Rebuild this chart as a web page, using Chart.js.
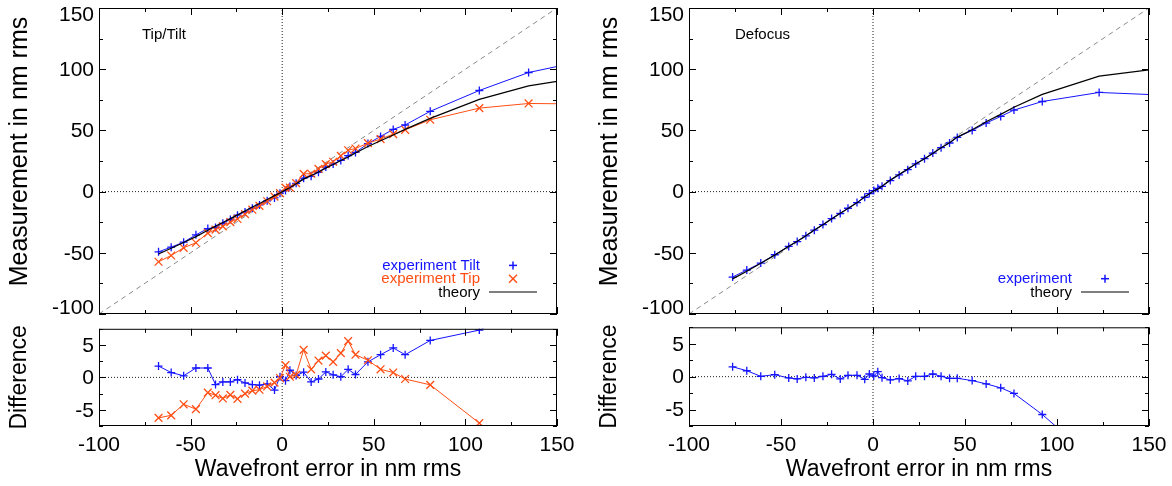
<!DOCTYPE html>
<html>
<head>
<meta charset="utf-8">
<script src="https://cdn.jsdelivr.net/npm/chart.js@4.4.1/dist/chart.umd.min.js"></script>
<style>
  html, body { margin: 0; padding: 0; background: #fff; }
  #wrap { position: relative; width: 1172px; height: 486px; overflow: hidden; }
  canvas { position: absolute; }
</style>
</head>
<body>
<div id="wrap">
  <canvas id="tl" width="586" height="322" style="left:0;top:0"></canvas>
  <canvas id="bl" width="586" height="164" style="left:0;top:322px"></canvas>
  <canvas id="tr" width="586" height="322" style="left:586px;top:0"></canvas>
  <canvas id="br" width="586" height="164" style="left:586px;top:322px"></canvas>
</div>
<script>
const FONT = "'Liberation Sans', Arial, Helvetica, sans-serif";
const BLUE = '#1414ff';
const ORANGE = '#ff4f14';

// Tip/Tilt panel (x = wavefront error, nm rms)
const ttX       = [-67.5, -60.6, -53.8, -47.1, -40.6, -36.4, -32.4, -28.3, -24.4, -20.3, -16.3, -12.4, -8.2, -4.2, -1.2, 1.8, 4.2, 7.6, 11.7, 15.8, 19.8, 23.8, 27.8, 32, 36, 40, 46.8, 53.7, 60.6, 67.1, 80.8, 107.6, 134.5, 162];
const tiltMeas  = [-49.2, -45.4, -41.3, -35.3, -30.2, -29.3, -25.9, -22.8, -19.3, -16.6, -13.7, -10.9, -7.5, -5.2, -1.3, 0.8, 4.1, 6.8, 11, 12.5, 15.8, 20, 22.5, 25.5, 29.4, 32, 39.2, 45.1, 50.8, 54.4, 65.6, 82.6, 97.3, 106];
const tipMeas   = [-57.3, -52.2, -45.9, -41.8, -33.9, -31.1, -28.4, -24.9, -22.4, -18.4, -14.8, -11.7, -7.9, -4.1, -1.3, 3.3, 3.3, 6.9, 14.5, 14.6, 18.6, 22.5, 24.4, 29.2, 33.8, 35.2, 39.6, 42.9, 46.9, 50.5, 58.7, 68.2, 72, 71.6];
const ttTheory  = [-51, -46.3, -41.6, -36.8, -31.6, -28.2, -25.2, -22.1, -19, -15.8, -12.6, -9.7, -6.5, -3.3, -1.2, 1.4, 3.1, 6.4, 10.2, 13.2, 16, 19.2, 22.1, 25.4, 28.2, 31.6, 36.8, 41.6, 46.2, 50.8, 59.8, 75.3, 86.4, 93];
const tiltDiff  = [1.75, 0.75, 0.25, 1.45, 1.45, -1.1, -0.7, -0.7, -0.35, -0.85, -1.1, -1.2, -1.0, -1.95, 0.1, -0.5, 1.1, 0.3, 0.8, -0.7, -0.25, 0.85, 0.4, 0.1, 1.25, 0.45, 2.4, 3.5, 4.55, 3.5, 5.7, 7.3, 10.9, 13];
const tipDiff   = [-6.25, -5.85, -4.15, -4.9, -2.35, -2.75, -3.25, -2.7, -3.3, -2.5, -2.05, -1.9, -1.4, -0.8, -0.1, 1.9, 0.1, 0.4, 4.25, 1.25, 2.6, 3.35, 2.4, 3.75, 5.6, 3.5, 2.65, 1.25, 0.75, -0.25, -1.15, -7.05, -14.4, -21.4];

// Defocus panel
const dfX      = [-76.3, -68.6, -61, -53.4, -45.8, -41.2, -36.5, -31.9, -27.2, -22.5, -17.8, -13.6, -8.7, -4.5, -2, 0.4, 2.6, 4.9, 9.4, 14.2, 18.9, 23.2, 28, 32.5, 37, 41.6, 45.8, 53.9, 61.5, 69.4, 76.6, 92, 122.9, 160];
const dfMeas   = [-69.8, -64.1, -58.4, -51.6, -44.8, -40.8, -36.1, -31.5, -26.9, -22, -17.9, -13.6, -9, -4.6, -1.6, 0.8, 2.7, 4.3, 9, 13.6, 17.9, 22.6, 26.9, 31.5, 35.9, 39.7, 44.3, 50, 56, 61.4, 66.6, 73.6, 81, 78.7];
const dfTheory = [-71.3, -65, -58.5, -51.9, -44.6, -40.5, -36, -31.3, -27, -22.3, -17.6, -13.8, -9.2, -4.2, -2, 0.7, 2, 4.4, 9.5, 13.9, 18.5, 22.5, 26.8, 31.1, 35.8, 40, 44.5, 50.6, 57.1, 63.1, 68.9, 79.4, 94.3, 101.4];
const dfDiff   = [1.5, 0.9, 0.05, 0.3, -0.2, -0.35, -0.1, -0.2, 0.05, 0.35, -0.35, 0.2, 0.2, -0.4, 0.4, 0.1, 0.75, -0.15, -0.5, -0.3, -0.65, 0.05, 0.05, 0.4, 0.05, -0.25, -0.25, -0.6, -1.1, -1.7, -2.55, -5.75, -13.3, -22];

// axes
const xRange = [-100, 150];
const measRange = [-100, 150];
const diffRange = [-7.5, 7.5];
const xSteps = { major: 50, minor: 25 };
const measSteps = { major: 50, minor: 25 };
const diffSteps = { major: 5, minor: 2.5 };

const pts = (xs, ys) => xs.map((x, i) => ({ x, y: ys[i] }));

function series(xs, ys, color, style) {
  return {
    data: pts(xs, ys), showLine: true, borderColor: color, backgroundColor: color,
    borderWidth: 1, pointStyle: style, pointRadius: style === 'crossRot' ? 5.5 : 4,
    pointBorderWidth: 1.3, pointBorderColor: color
  };
}
function theory(xs, ys) {
  return { data: pts(xs, ys), showLine: true, borderColor: '#000', borderWidth: 1.2, pointRadius: 0 };
}
function refLines(yr, diag) {
  const dotted = { showLine: true, borderColor: '#222', borderWidth: 1, borderDash: [1, 2], pointRadius: 0 };
  const out = [
    Object.assign({ data: [{ x: xRange[0], y: 0 }, { x: xRange[1], y: 0 }] }, dotted),
    Object.assign({ data: [{ x: 0, y: yr[0] }, { x: 0, y: yr[1] }] }, dotted)
  ];
  if (diag) out.push({ data: [{ x: xRange[0], y: xRange[0] }, { x: xRange[1], y: xRange[1] }],
    showLine: true, borderColor: '#8a8a8a', borderWidth: 1, borderDash: [5, 4], pointRadius: 0 });
  return out;
}

const isMajor = (v, step) => Math.abs(v / step - Math.round(v / step)) < 1e-6;

// box frame with inward ticks, y labels, y title, panel label, legend
const framePlugin = {
  id: 'frame',
  afterDatasetsDraw(chart, args, o) {
    const { ctx, chartArea: a, scales: { x, y } } = chart;
    ctx.save();
    ctx.strokeStyle = '#000';
    ctx.lineWidth = 1;
    ctx.setLineDash([]);
    ctx.strokeRect(a.left + 0.5, a.top + 0.5, a.right - a.left - 1, a.bottom - a.top - 1);
    const seg = (x1, y1, x2, y2) => { ctx.beginPath(); ctx.moveTo(x1, y1); ctx.lineTo(x2, y2); ctx.stroke(); };
    for (let v = x.min; v <= x.max + 1e-9; v += o.xs.minor) {
      const px = Math.round(x.getPixelForValue(v)) + 0.5;
      const len = isMajor(v, o.xs.major) ? 7 : 4;
      seg(px, a.top, px, a.top + len);
      seg(px, a.bottom, px, a.bottom - len);
    }
    for (let v = y.min; v <= y.max + 1e-9; v += o.ys.minor) {
      const py = Math.round(y.getPixelForValue(v)) + 0.5;
      const len = isMajor(v, o.ys.major) ? 7 : 4;
      seg(a.left, py, a.left + len, py);
      seg(a.right, py, a.right - len, py);
    }
    // y tick labels
    ctx.fillStyle = '#000';
    ctx.font = '21px ' + FONT;
    ctx.textAlign = 'right';
    ctx.textBaseline = 'middle';
    y.ticks.forEach(t => {
      if (!isMajor(t.value, o.ys.major)) return;
      let py = y.getPixelForValue(t.value);
      py = Math.min(Math.max(py, a.top + 6.5), a.bottom - 6.5);
      ctx.fillText(String(t.value), a.left - 5, py + 1);
    });
    // y title
    ctx.save();
    ctx.translate(a.left - 79, (a.top + a.bottom) / 2 + o.yTitleShift);
    ctx.rotate(-Math.PI / 2);
    ctx.textAlign = 'center';
    ctx.font = o.yTitleSize + 'px ' + FONT;
    ctx.fillText(o.yTitle, 0, 0);
    ctx.restore();
    // panel label
    if (o.label) {
      ctx.font = '15px ' + FONT;
      ctx.textAlign = 'left';
      ctx.textBaseline = 'alphabetic';
      ctx.fillText(o.label, a.left + o.labelDx, a.top + 31);
    }
    // legend
    if (o.legend) {
      ctx.font = '15px ' + FONT;
      ctx.textAlign = 'right';
      ctx.textBaseline = 'alphabetic';
      const n = o.legend.length;
      o.legend.forEach((r, i) => {
        const k = n - 1 - i;
        const base = a.bottom - 17.5 - k * 13.3;
        ctx.fillStyle = r.color;
        ctx.fillText(r.text, a.right - 77, base);
        const sx = a.right - 44, sy = base - 4.5;
        ctx.strokeStyle = r.color;
        ctx.lineWidth = 1.5;
        if (r.kind === 'line') {
          ctx.lineWidth = 1.2;
          seg(a.right - 68, sy, a.right - 20, sy);
        } else if (r.kind === 'plus') {
          seg(sx - 4, sy, sx + 4, sy);
          seg(sx, sy - 4, sx, sy + 4);
        } else {
          seg(sx - 4, sy - 4, sx + 4, sy + 4);
          seg(sx - 4, sy + 4, sx + 4, sy - 4);
        }
      });
    }
    ctx.restore();
  }
};

function makeChart(id, datasets, c) {
  return new Chart(document.getElementById(id), {
    type: 'scatter',
    data: { datasets },
    options: {
      responsive: false,
      animation: false,
      layout: { padding: c.padding },
      plugins: { legend: { display: false }, tooltip: { enabled: false }, frame: c.frame },
      scales: {
        x: {
          min: xRange[0], max: xRange[1],
          grid: { display: false }, border: { display: false },
          ticks: { display: c.xLabels, stepSize: xSteps.major, padding: -1, maxRotation: 0, color: '#000',
                   font: { family: FONT, size: 21 } },
          title: { display: c.xLabels, text: 'Wavefront error in nm rms', color: '#000',
                   font: { family: FONT, size: 23 }, padding: { top: 0, bottom: 3 } },
          afterFit: s => { s.height = c.xHeight; s.paddingLeft = 0; s.paddingRight = 0; }
        },
        y: {
          min: c.yRange[0], max: c.yRange[1],
          grid: { display: false }, border: { display: false },
          ticks: { display: false, stepSize: c.frame.ys.minor },
          afterFit: s => { s.width = c.yWidth; s.paddingTop = 0; s.paddingBottom = 0; }
        }
      }
    },
    plugins: [framePlugin]
  });
}

makeChart('tl', [
  theory(ttX, ttTheory),
  series(ttX, tipMeas, ORANGE, 'crossRot'),
  series(ttX, tiltMeas, BLUE, 'cross'),
  ...refLines(measRange, true)
], {
  padding: { top: 8, right: 29, left: 0, bottom: 0 }, yWidth: 99, xHeight: 8, xLabels: false, yRange: measRange,
  frame: { xs: xSteps, ys: measSteps, yTitle: 'Measurement in nm rms', yTitleSize: 25, yTitleShift: -9.5,
           label: 'Tip/Tilt', labelDx: 43,
           legend: [{ text: 'experiment Tilt', color: BLUE, kind: 'plus' },
                    { text: 'experiment Tip', color: ORANGE, kind: 'cross' },
                    { text: 'theory', color: '#000', kind: 'line' }] }
});

makeChart('bl', [
  series(ttX, tipDiff, ORANGE, 'crossRot'),
  series(ttX, tiltDiff, BLUE, 'cross'),
  ...refLines(diffRange, false)
], {
  padding: { top: 5, right: 29, left: 0, bottom: 0 }, yWidth: 99, xHeight: 60, xLabels: true, yRange: diffRange,
  frame: { xs: xSteps, ys: diffSteps, yTitle: 'Difference', yTitleSize: 23, yTitleShift: 0 }
});

makeChart('tr', [
  theory(dfX, dfTheory),
  series(dfX, dfMeas, BLUE, 'cross'),
  ...refLines(measRange, true)
], {
  padding: { top: 8, right: 23, left: 0, bottom: 0 }, yWidth: 103, xHeight: 8, xLabels: false, yRange: measRange,
  frame: { xs: xSteps, ys: measSteps, yTitle: 'Measurement in nm rms', yTitleSize: 25, yTitleShift: -9.5,
           label: 'Defocus', labelDx: 46,
           legend: [{ text: 'experiment', color: BLUE, kind: 'plus' },
                    { text: 'theory', color: '#000', kind: 'line' }] }
});

makeChart('br', [
  series(dfX, dfDiff, BLUE, 'cross'),
  ...refLines(diffRange, false)
], {
  padding: { top: 5, right: 23, left: 0, bottom: 0 }, yWidth: 103, xHeight: 60, xLabels: true, yRange: diffRange,
  frame: { xs: xSteps, ys: diffSteps, yTitle: 'Difference', yTitleSize: 23, yTitleShift: 0 }
});
</script>
</body>
</html>
